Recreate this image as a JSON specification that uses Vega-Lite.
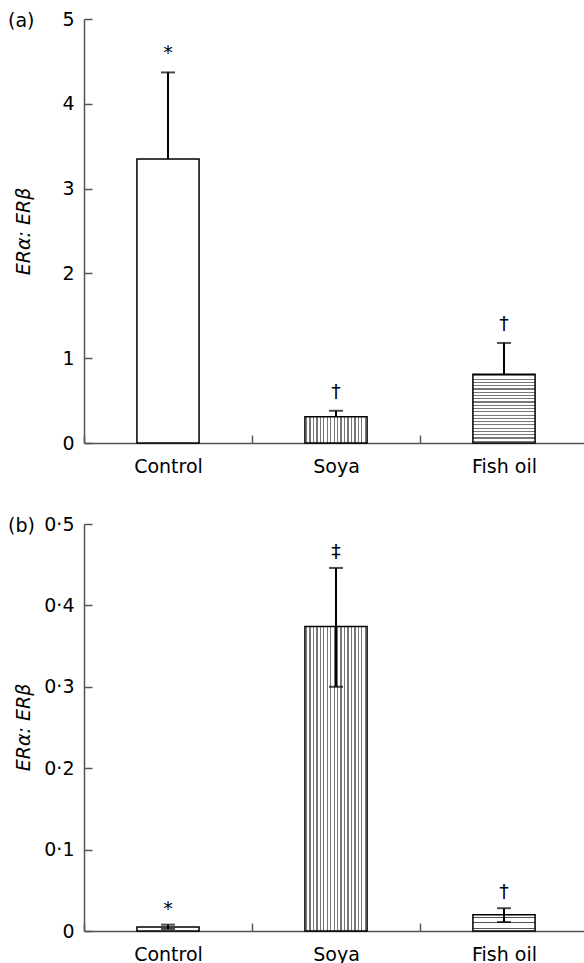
{
  "$schema": "https://vega.github.io/schema/vega-lite/v6.json",
  "background": "white",
  "padding": {"left": 8, "top": 10, "right": 0, "bottom": 0},
  "spacing": 81,
  "bounds": "flush",
  "config": {
    "view": {"stroke": null},
    "font": "DejaVu Sans",
    "axis": {
      "labelFont": "DejaVu Sans",
      "labelFontSize": 19,
      "labelColor": "black",
      "domainColor": "#555",
      "domainWidth": 1.5,
      "tickColor": "#555",
      "tickWidth": 1.5,
      "grid": false,
      "titleFont": "DejaVu Sans",
      "titleFontSize": 19,
      "titleFontWeight": "normal",
      "titleFontStyle": "italic",
      "titleColor": "black"
    },
    "title": {"font": "DejaVu Sans", "fontSize": 19, "fontWeight": "normal", "color": "black"}
  },
  "datasets": {
    "a": [
      {"group": "Control", "value": 3.35, "lo": 2.33, "hi": 4.37, "sig": "*"},
      {"group": "Soya", "value": 0.31, "lo": 0.24, "hi": 0.38, "sig": "†"},
      {"group": "Fish oil", "value": 0.81, "lo": 0.44, "hi": 1.18, "sig": "†"}
    ],
    "b": [
      {"group": "Control", "value": 0.005, "lo": 0.0025, "hi": 0.0078, "sig": "*"},
      {"group": "Soya", "value": 0.374, "lo": 0.3, "hi": 0.446, "sig": "‡"},
      {"group": "Fish oil", "value": 0.02, "lo": 0.011, "hi": 0.028, "sig": "†"}
    ]
  },
  "vconcat": [
    {
      "width": 504,
      "height": 424,
      "title": {"text": "(a)", "anchor": "start", "frame": "group", "dx": -76, "dy": 20, "offset": -9.5, "baseline": "middle"},
      "data": {"name": "a"},
      "encoding": {
        "x": {
          "field": "group", "type": "nominal", "sort": ["Control", "Soya", "Fish oil"],
          "scale": {"paddingInner": 0, "paddingOuter": 0},
          "axis": {"title": null, "labelAngle": 0, "tickBand": "extent", "tickSize": -8, "labelPadding": 22}
        },
        "y": {
          "field": "value", "type": "quantitative", "title": "ERα: ERβ",
          "scale": {"domain": [0, 5]},
          "axis": {"values": [0, 1, 2, 3, 4, 5], "tickSize": -8, "labelPadding": 18, "titleX": -61, "titleY": 212, "titleBaseline": "middle"}
        }
      },
      "layer": [
        {"mark": {"type": "rule", "stroke": "black", "strokeWidth": 2},
         "encoding": {"y": {"field": "lo", "type": "quantitative", "title": "ERα: ERβ"}, "y2": {"field": "hi"}}},
        {"mark": {"type": "tick", "orient": "horizontal", "size": 14, "thickness": 2, "color": "black"},
         "encoding": {"y": {"field": "hi", "type": "quantitative", "title": "ERα: ERβ"}}},
        {"transform": [{"filter": "datum.group === 'Control'"}],
         "mark": {"type": "bar", "fill": "white", "stroke": "black", "strokeWidth": 1.5, "width": {"band": 0.37}}},
        {"transform": [{"filter": "datum.group === 'Soya'"}],
         "mark": {"type": "bar", "stroke": "black", "strokeWidth": 1.5, "width": {"band": 0.37},
          "fill": {"gradient": "linear", "x1": 0, "y1": 0, "x2": 1, "y2": 0, "stops": [
            {"offset": 0.0167, "color": "white"}, {"offset": 0.0167, "color": "#777"}, {"offset": 0.0361, "color": "#777"}, {"offset": 0.0361, "color": "white"},
            {"offset": 0.0722, "color": "white"}, {"offset": 0.0722, "color": "#777"}, {"offset": 0.0917, "color": "#777"}, {"offset": 0.0917, "color": "white"},
            {"offset": 0.1278, "color": "white"}, {"offset": 0.1278, "color": "#777"}, {"offset": 0.1472, "color": "#777"}, {"offset": 0.1472, "color": "white"},
            {"offset": 0.1833, "color": "white"}, {"offset": 0.1833, "color": "#777"}, {"offset": 0.2028, "color": "#777"}, {"offset": 0.2028, "color": "white"},
            {"offset": 0.2389, "color": "white"}, {"offset": 0.2389, "color": "#777"}, {"offset": 0.2583, "color": "#777"}, {"offset": 0.2583, "color": "white"},
            {"offset": 0.2944, "color": "white"}, {"offset": 0.2944, "color": "#777"}, {"offset": 0.3139, "color": "#777"}, {"offset": 0.3139, "color": "white"},
            {"offset": 0.35, "color": "white"}, {"offset": 0.35, "color": "#777"}, {"offset": 0.3694, "color": "#777"}, {"offset": 0.3694, "color": "white"},
            {"offset": 0.4056, "color": "white"}, {"offset": 0.4056, "color": "#777"}, {"offset": 0.425, "color": "#777"}, {"offset": 0.425, "color": "white"},
            {"offset": 0.4611, "color": "white"}, {"offset": 0.4611, "color": "#777"}, {"offset": 0.4806, "color": "#777"}, {"offset": 0.4806, "color": "white"},
            {"offset": 0.5167, "color": "white"}, {"offset": 0.5167, "color": "#777"}, {"offset": 0.5361, "color": "#777"}, {"offset": 0.5361, "color": "white"},
            {"offset": 0.5722, "color": "white"}, {"offset": 0.5722, "color": "#777"}, {"offset": 0.5917, "color": "#777"}, {"offset": 0.5917, "color": "white"},
            {"offset": 0.6278, "color": "white"}, {"offset": 0.6278, "color": "#777"}, {"offset": 0.6472, "color": "#777"}, {"offset": 0.6472, "color": "white"},
            {"offset": 0.6833, "color": "white"}, {"offset": 0.6833, "color": "#777"}, {"offset": 0.7028, "color": "#777"}, {"offset": 0.7028, "color": "white"},
            {"offset": 0.7389, "color": "white"}, {"offset": 0.7389, "color": "#777"}, {"offset": 0.7583, "color": "#777"}, {"offset": 0.7583, "color": "white"},
            {"offset": 0.7944, "color": "white"}, {"offset": 0.7944, "color": "#777"}, {"offset": 0.8139, "color": "#777"}, {"offset": 0.8139, "color": "white"},
            {"offset": 0.85, "color": "white"}, {"offset": 0.85, "color": "#777"}, {"offset": 0.8694, "color": "#777"}, {"offset": 0.8694, "color": "white"},
            {"offset": 0.9056, "color": "white"}, {"offset": 0.9056, "color": "#777"}, {"offset": 0.925, "color": "#777"}, {"offset": 0.925, "color": "white"},
            {"offset": 0.9611, "color": "white"}, {"offset": 0.9611, "color": "#777"}, {"offset": 0.9806, "color": "#777"}, {"offset": 0.9806, "color": "white"}
          ]}}},
        {"transform": [{"filter": "datum.group === 'Fish oil'"}],
         "mark": {"type": "bar", "stroke": "black", "strokeWidth": 1.5, "width": {"band": 0.37},
          "fill": {"gradient": "linear", "x1": 0, "y1": 0, "x2": 0, "y2": 1, "stops": [
            {"offset": 0.0143, "color": "white"}, {"offset": 0.0143, "color": "#777"}, {"offset": 0.031, "color": "#777"}, {"offset": 0.031, "color": "white"},
            {"offset": 0.0619, "color": "white"}, {"offset": 0.0619, "color": "#777"}, {"offset": 0.0786, "color": "#777"}, {"offset": 0.0786, "color": "white"},
            {"offset": 0.1095, "color": "white"}, {"offset": 0.1095, "color": "#777"}, {"offset": 0.1262, "color": "#777"}, {"offset": 0.1262, "color": "white"},
            {"offset": 0.1571, "color": "white"}, {"offset": 0.1571, "color": "#777"}, {"offset": 0.1738, "color": "#777"}, {"offset": 0.1738, "color": "white"},
            {"offset": 0.2048, "color": "white"}, {"offset": 0.2048, "color": "#777"}, {"offset": 0.2214, "color": "#777"}, {"offset": 0.2214, "color": "white"},
            {"offset": 0.2524, "color": "white"}, {"offset": 0.2524, "color": "#777"}, {"offset": 0.269, "color": "#777"}, {"offset": 0.269, "color": "white"},
            {"offset": 0.3, "color": "white"}, {"offset": 0.3, "color": "#777"}, {"offset": 0.3167, "color": "#777"}, {"offset": 0.3167, "color": "white"},
            {"offset": 0.3476, "color": "white"}, {"offset": 0.3476, "color": "#777"}, {"offset": 0.3643, "color": "#777"}, {"offset": 0.3643, "color": "white"},
            {"offset": 0.3952, "color": "white"}, {"offset": 0.3952, "color": "#777"}, {"offset": 0.4119, "color": "#777"}, {"offset": 0.4119, "color": "white"},
            {"offset": 0.4429, "color": "white"}, {"offset": 0.4429, "color": "#777"}, {"offset": 0.4595, "color": "#777"}, {"offset": 0.4595, "color": "white"},
            {"offset": 0.4905, "color": "white"}, {"offset": 0.4905, "color": "#777"}, {"offset": 0.5071, "color": "#777"}, {"offset": 0.5071, "color": "white"},
            {"offset": 0.5381, "color": "white"}, {"offset": 0.5381, "color": "#777"}, {"offset": 0.5548, "color": "#777"}, {"offset": 0.5548, "color": "white"},
            {"offset": 0.5857, "color": "white"}, {"offset": 0.5857, "color": "#777"}, {"offset": 0.6024, "color": "#777"}, {"offset": 0.6024, "color": "white"},
            {"offset": 0.6333, "color": "white"}, {"offset": 0.6333, "color": "#777"}, {"offset": 0.65, "color": "#777"}, {"offset": 0.65, "color": "white"},
            {"offset": 0.681, "color": "white"}, {"offset": 0.681, "color": "#777"}, {"offset": 0.6976, "color": "#777"}, {"offset": 0.6976, "color": "white"},
            {"offset": 0.7286, "color": "white"}, {"offset": 0.7286, "color": "#777"}, {"offset": 0.7452, "color": "#777"}, {"offset": 0.7452, "color": "white"},
            {"offset": 0.7762, "color": "white"}, {"offset": 0.7762, "color": "#777"}, {"offset": 0.7929, "color": "#777"}, {"offset": 0.7929, "color": "white"},
            {"offset": 0.8238, "color": "white"}, {"offset": 0.8238, "color": "#777"}, {"offset": 0.8405, "color": "#777"}, {"offset": 0.8405, "color": "white"},
            {"offset": 0.8714, "color": "white"}, {"offset": 0.8714, "color": "#777"}, {"offset": 0.8881, "color": "#777"}, {"offset": 0.8881, "color": "white"},
            {"offset": 0.919, "color": "white"}, {"offset": 0.919, "color": "#777"}, {"offset": 0.9357, "color": "#777"}, {"offset": 0.9357, "color": "white"},
            {"offset": 0.9667, "color": "white"}, {"offset": 0.9667, "color": "#777"}, {"offset": 0.9833, "color": "#777"}, {"offset": 0.9833, "color": "white"}
          ]}}},
        {"mark": {"type": "text", "dy": -19, "fontSize": 19, "font": "DejaVu Sans", "baseline": "middle", "color": "black"},
         "encoding": {"y": {"field": "hi", "type": "quantitative", "title": "ERα: ERβ"}, "text": {"field": "sig"}}}
      ]
    },
    {
      "width": 504,
      "height": 407,
      "title": {"text": "(b)", "anchor": "start", "frame": "group", "dx": -76, "dy": 20, "offset": -9.5, "baseline": "middle"},
      "data": {"name": "b"},
      "encoding": {
        "x": {
          "field": "group", "type": "nominal", "sort": ["Control", "Soya", "Fish oil"],
          "scale": {"paddingInner": 0, "paddingOuter": 0},
          "axis": {"title": null, "labelAngle": 0, "tickBand": "extent", "tickSize": -8, "labelPadding": 22}
        },
        "y": {
          "field": "value", "type": "quantitative", "title": "ERα: ERβ",
          "scale": {"domain": [0, 0.5]},
          "axis": {"values": [0, 0.1, 0.2, 0.3, 0.4, 0.5], "labelExpr": "datum.value == 0 ? '0' : replace(format(datum.value, '.1f'), '.', '·')", "tickSize": -8, "labelPadding": 18, "titleX": -61, "titleY": 203, "titleBaseline": "middle"}
        }
      },
      "layer": [
        {"transform": [{"filter": "datum.group === 'Control'"}],
         "mark": {"type": "bar", "fill": "white", "stroke": "black", "strokeWidth": 1.5, "width": {"band": 0.37}}},
        {"transform": [{"filter": "datum.group === 'Soya'"}],
         "mark": {"type": "bar", "stroke": "black", "strokeWidth": 1.5, "width": {"band": 0.37},
          "fill": {"gradient": "linear", "x1": 0, "y1": 0, "x2": 1, "y2": 0, "stops": [
            {"offset": 0.0167, "color": "white"}, {"offset": 0.0167, "color": "#777"}, {"offset": 0.0361, "color": "#777"}, {"offset": 0.0361, "color": "white"},
            {"offset": 0.0722, "color": "white"}, {"offset": 0.0722, "color": "#777"}, {"offset": 0.0917, "color": "#777"}, {"offset": 0.0917, "color": "white"},
            {"offset": 0.1278, "color": "white"}, {"offset": 0.1278, "color": "#777"}, {"offset": 0.1472, "color": "#777"}, {"offset": 0.1472, "color": "white"},
            {"offset": 0.1833, "color": "white"}, {"offset": 0.1833, "color": "#777"}, {"offset": 0.2028, "color": "#777"}, {"offset": 0.2028, "color": "white"},
            {"offset": 0.2389, "color": "white"}, {"offset": 0.2389, "color": "#777"}, {"offset": 0.2583, "color": "#777"}, {"offset": 0.2583, "color": "white"},
            {"offset": 0.2944, "color": "white"}, {"offset": 0.2944, "color": "#777"}, {"offset": 0.3139, "color": "#777"}, {"offset": 0.3139, "color": "white"},
            {"offset": 0.35, "color": "white"}, {"offset": 0.35, "color": "#777"}, {"offset": 0.3694, "color": "#777"}, {"offset": 0.3694, "color": "white"},
            {"offset": 0.4056, "color": "white"}, {"offset": 0.4056, "color": "#777"}, {"offset": 0.425, "color": "#777"}, {"offset": 0.425, "color": "white"},
            {"offset": 0.4611, "color": "white"}, {"offset": 0.4611, "color": "#777"}, {"offset": 0.4806, "color": "#777"}, {"offset": 0.4806, "color": "white"},
            {"offset": 0.5167, "color": "white"}, {"offset": 0.5167, "color": "#777"}, {"offset": 0.5361, "color": "#777"}, {"offset": 0.5361, "color": "white"},
            {"offset": 0.5722, "color": "white"}, {"offset": 0.5722, "color": "#777"}, {"offset": 0.5917, "color": "#777"}, {"offset": 0.5917, "color": "white"},
            {"offset": 0.6278, "color": "white"}, {"offset": 0.6278, "color": "#777"}, {"offset": 0.6472, "color": "#777"}, {"offset": 0.6472, "color": "white"},
            {"offset": 0.6833, "color": "white"}, {"offset": 0.6833, "color": "#777"}, {"offset": 0.7028, "color": "#777"}, {"offset": 0.7028, "color": "white"},
            {"offset": 0.7389, "color": "white"}, {"offset": 0.7389, "color": "#777"}, {"offset": 0.7583, "color": "#777"}, {"offset": 0.7583, "color": "white"},
            {"offset": 0.7944, "color": "white"}, {"offset": 0.7944, "color": "#777"}, {"offset": 0.8139, "color": "#777"}, {"offset": 0.8139, "color": "white"},
            {"offset": 0.85, "color": "white"}, {"offset": 0.85, "color": "#777"}, {"offset": 0.8694, "color": "#777"}, {"offset": 0.8694, "color": "white"},
            {"offset": 0.9056, "color": "white"}, {"offset": 0.9056, "color": "#777"}, {"offset": 0.925, "color": "#777"}, {"offset": 0.925, "color": "white"},
            {"offset": 0.9611, "color": "white"}, {"offset": 0.9611, "color": "#777"}, {"offset": 0.9806, "color": "#777"}, {"offset": 0.9806, "color": "white"}
          ]}}},
        {"transform": [{"filter": "datum.group === 'Fish oil'"}],
         "mark": {"type": "bar", "stroke": "black", "strokeWidth": 1.5, "width": {"band": 0.37},
          "fill": {"gradient": "linear", "x1": 0, "y1": 0, "x2": 0, "y2": 1, "stops": [
            {"offset": 0.13, "color": "white"}, {"offset": 0.13, "color": "#555"}, {"offset": 0.2, "color": "#555"}, {"offset": 0.2, "color": "white"},
            {"offset": 0.465, "color": "white"}, {"offset": 0.465, "color": "#555"}, {"offset": 0.535, "color": "#555"}, {"offset": 0.535, "color": "white"},
            {"offset": 0.8, "color": "white"}, {"offset": 0.8, "color": "#555"}, {"offset": 0.87, "color": "#555"}, {"offset": 0.87, "color": "white"}
          ]}}},
        {"mark": {"type": "rule", "stroke": "black", "strokeWidth": 2},
         "encoding": {"y": {"field": "lo", "type": "quantitative", "title": "ERα: ERβ"}, "y2": {"field": "hi"}}},
        {"mark": {"type": "tick", "orient": "horizontal", "size": 14, "thickness": 2, "color": "black"},
         "encoding": {"y": {"field": "hi", "type": "quantitative", "title": "ERα: ERβ"}}},
        {"mark": {"type": "tick", "orient": "horizontal", "size": 14, "thickness": 2, "color": "black"},
         "encoding": {"y": {"field": "lo", "type": "quantitative", "title": "ERα: ERβ"}}},
        {"mark": {"type": "text", "dy": -16, "fontSize": 19, "font": "DejaVu Sans", "baseline": "middle", "color": "black"},
         "encoding": {"y": {"field": "hi", "type": "quantitative", "title": "ERα: ERβ"}, "text": {"field": "sig"}}}
      ]
    }
  ]
}
